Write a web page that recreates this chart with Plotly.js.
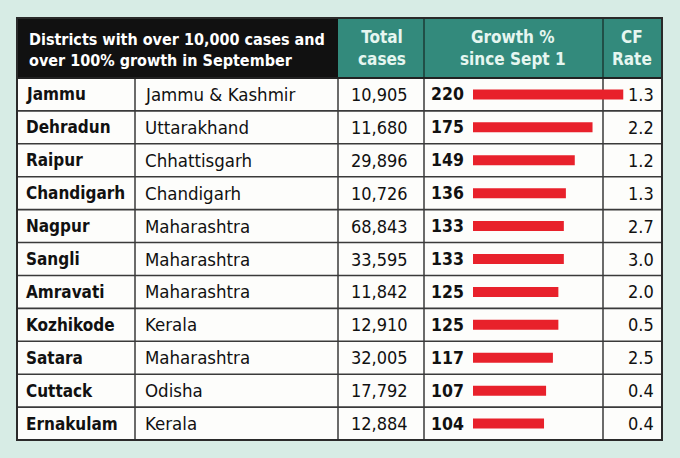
<!DOCTYPE html>
<html><head><meta charset="utf-8">
<script src="https://cdn.plot.ly/plotly-3.0.1.min.js"></script>
<style>html,body{margin:0;padding:0;background:#d7ece5;}</style>
</head><body>
<div id="chart" style="width:680px;height:458px;"></div>
<script>
const districts = ["Jammu","Dehradun","Raipur","Chandigarh","Nagpur","Sangli","Amravati","Kozhikode","Satara","Cuttack","Ernakulam"];
const states = ["Jammu & Kashmir","Uttarakhand","Chhattisgarh","Chandigarh","Maharashtra","Maharashtra","Maharashtra","Kerala","Maharashtra","Odisha","Kerala"];
const totalCases = ["10,905","11,680","29,896","10,726","68,843","33,595","11,842","12,910","32,005","17,792","12,884"];
const growth = [220,175,149,136,133,133,125,125,117,107,104];
const cfRate = ["1.3","2.2","1.2","1.3","2.7","3.0","2.0","0.5","2.5","0.4","0.4"];
const headerTitle = "Districts with over 10,000 cases and<br>over 100% growth in September";
const colHeaders = ["Total<br>cases","Growth %<br>since Sept 1","CF<br>Rate"];

const W = 680, H = 458;
const px = v => v / W;           // x pixel -> paper
const py = v => 1 - v / H;       // y pixel -> paper
const FONT = "'DejaVu Sans Condensed', 'DejaVu Sans', sans-serif";
const BG = "#d7ece5", TEAL = "#338a7c", LINE = "#3a3a3a";

const shapes = [];
shapes.push({type:"rect", xref:"paper", yref:"paper", x0:px(17), x1:px(338), y0:py(78), y1:py(18), fillcolor:"#111111", line:{width:0}, layer:"below"});
shapes.push({type:"rect", xref:"paper", yref:"paper", x0:px(338), x1:px(662), y0:py(78), y1:py(18), fillcolor:TEAL, line:{width:0}, layer:"below"});
shapes.push({type:"rect", xref:"paper", yref:"paper", x0:px(17), x1:px(662), y0:py(440), y1:py(78), fillcolor:"#fdfdfb", line:{width:0}, layer:"below"});
[424, 603].forEach(x => shapes.push({type:"line", xref:"paper", yref:"paper", x0:px(x), x1:px(x), y0:py(78), y1:py(18), line:{color:"#1d3b36", width:1.5}, layer:"below"}));
[135, 338, 424, 603].forEach(x => shapes.push({type:"line", xref:"paper", yref:"paper", x0:px(x), x1:px(x), y0:py(440), y1:py(78), line:{color:LINE, width:1.5}, layer:"below"}));
for (let i = 0; i < districts.length - 1; i++) {
  shapes.push({type:"line", xref:"paper", yref:"y", x0:px(17), x1:px(662), y0:i+0.5, y1:i+0.5, line:{color:LINE, width:1.6}, layer:"below"});
}
shapes.push({type:"line", xref:"paper", yref:"paper", x0:px(17), x1:px(662), y0:py(78), y1:py(78), line:{color:"#222", width:2}, layer:"below"});
shapes.push({type:"rect", xref:"paper", yref:"paper", x0:px(17), x1:px(662), y0:py(440), y1:py(18), line:{color:"#2a2a2a", width:2}, fillcolor:"rgba(0,0,0,0)", layer:"below"});

const annotations = [];
annotations.push({xref:"paper", yref:"paper", x:px(27), y:py(50), xanchor:"left", yanchor:"middle", align:"left", showarrow:false,
  text:"<b>"+headerTitle+"</b>", font:{family:FONT, size:16, color:"#ffffff"}});
const hdrCenters = [382, 513, 632];
colHeaders.forEach((t, k) => annotations.push({xref:"paper", yref:"paper", x:px(hdrCenters[k]), y:py(48), xanchor:"center", yanchor:"middle", align:"center", showarrow:false,
  text:"<b>"+t+"</b>", font:{family:FONT, size:17, color:"#e6f6f0"}}));

districts.forEach((d, i) => {
  annotations.push({xref:"paper", yref:"y", x:px(24), y:d, xanchor:"left", yanchor:"middle", showarrow:false, text:"<b>"+d+"</b>", font:{family:FONT, size:17, color:"#111"}});
  annotations.push({xref:"paper", yref:"y", x:px(143), y:d, xanchor:"left", yanchor:"middle", showarrow:false, text:states[i], font:{family:FONT, size:18.5, color:"#111"}});
  annotations.push({xref:"paper", yref:"y", x:px(410), y:d, xanchor:"right", yanchor:"middle", showarrow:false, text:totalCases[i], font:{family:FONT, size:18, color:"#111"}});
  annotations.push({xref:"paper", yref:"y", x:px(429), y:d, xanchor:"left", yanchor:"middle", showarrow:false, text:"<b>"+growth[i]+"</b>", font:{family:FONT, size:17.5, color:"#111"}});
  annotations.push({xref:"paper", yref:"y", x:px(656), y:d, xanchor:"right", yanchor:"middle", showarrow:false, text:cfRate[i], font:{family:FONT, size:18, color:"#111"}});
});

const pxPerUnit = 0.683, zeroPx = 473, rowPx = (440 - 78) / districts.length;
const yTop = -0.5 - 78 / rowPx, yBot = districts.length - 0.5 + (H - 440) / rowPx;

const trace = {
  type:"bar", orientation:"h", y:districts, x:growth,
  marker:{color:"#e8212b", line:{width:0}}, width: 10 / rowPx,
  hoverinfo:"skip", cliponaxis:false
};

const layout = {
  width:W, height:H, margin:{l:0, r:0, t:0, b:0},
  paper_bgcolor:BG, plot_bgcolor:"rgba(0,0,0,0)",
  showlegend:false,
  xaxis:{range:[-zeroPx/pxPerUnit, (W-zeroPx)/pxPerUnit], visible:false, fixedrange:true},
  yaxis:{type:"category", categoryorder:"array", categoryarray:districts, range:[yBot, yTop], visible:false, fixedrange:true},
  shapes:shapes, annotations:annotations
};
Plotly.newPlot("chart", [trace], layout, {displayModeBar:false, staticPlot:true});
</script>
</body></html>
